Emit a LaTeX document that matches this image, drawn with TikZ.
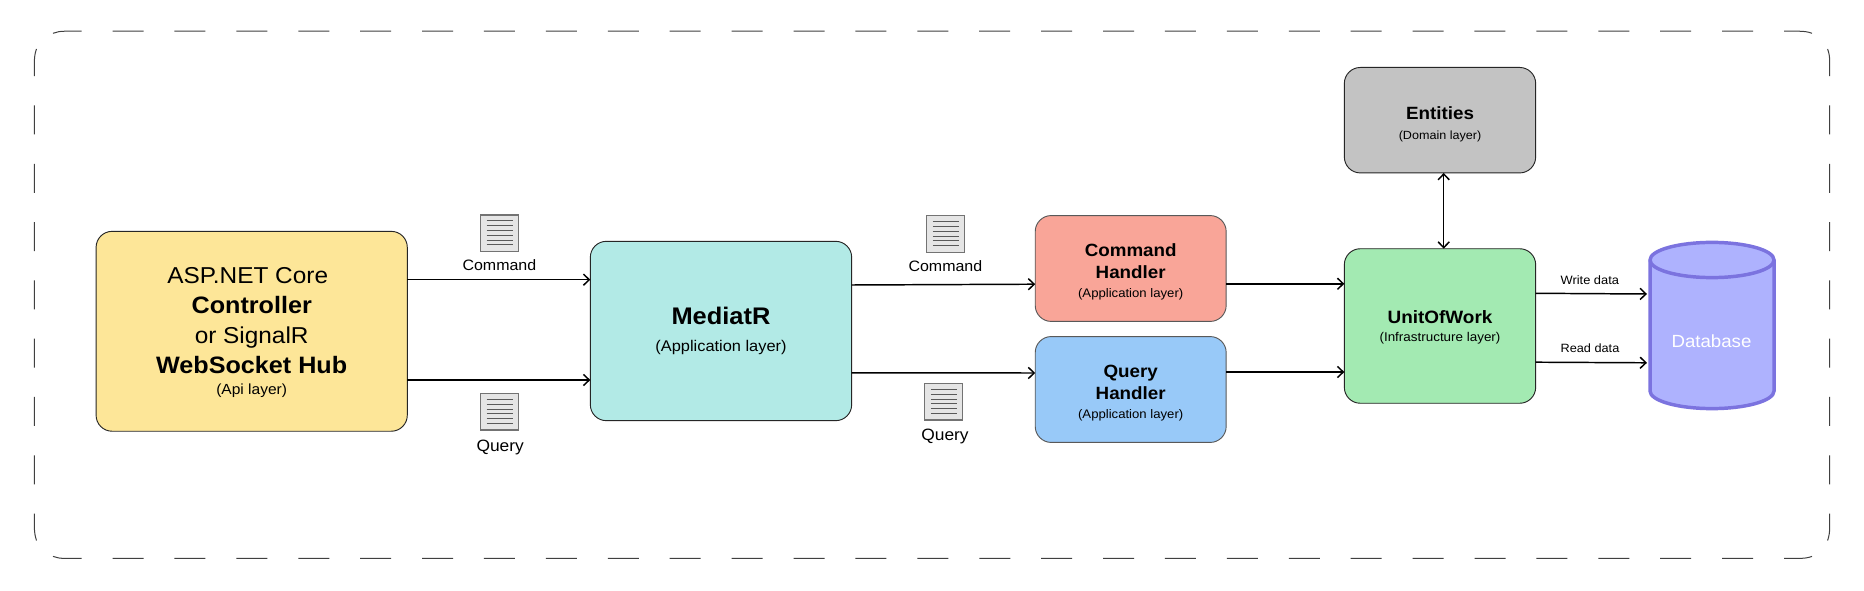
\documentclass[tikz,border=0pt]{standalone}
\usepackage{fontspec}
\setmainfont[FakeStretch=1.06]{Liberation Sans}
\usetikzlibrary{arrows.meta}
\newcommand\sz[2]{\fontsize{#1}{#2}\selectfont}
\newcommand\szb[1]{\fontsize{#1}{#1}\selectfont\bfseries}
\newcommand\szn[1]{\fontsize{#1}{#1}\selectfont}
\newcommand\tall[1]{\rule{0pt}{#1}}
\definecolor{cyellow}{HTML}{FDE698}
\definecolor{cteal}{HTML}{B2EAE6}
\definecolor{cred}{HTML}{F9A598}
\definecolor{cblue}{HTML}{98C9F8}
\definecolor{cgreen}{HTML}{A3EAB2}
\definecolor{cgrey}{HTML}{C3C3C3}
\definecolor{cdb}{HTML}{AEB2FE}
\definecolor{cdbline}{HTML}{7B73DF}
\tikzset{
  outerline/.style={draw=black!75,line width=0.75pt},
  topdash/.style={dash pattern=on 23.25pt off 23.18pt,dash phase=1.6pt},
  sidedash/.style={dash pattern=on 21.75pt off 21.98pt,dash phase=1.2pt},
  boxnode/.style={draw=black!85,line width=0.7pt,rounded corners=12pt,outer sep=0pt,inner sep=0pt,align=center},
  conn/.style={line width=1.1pt,-{Straight Barb[length=4.4pt,width=8.4pt]}},
  biconn/.style={line width=1.1pt,{Straight Barb[length=4.4pt,width=8.4pt]}-{Straight Barb[length=4.4pt,width=8.4pt]}},
  txt/.style={inner sep=0pt,outer sep=0pt,align=center},
  docicon/.style={draw=black!55,fill=black!10,line width=0.8pt,minimum width=28.8pt,minimum height=27.3pt,inner sep=0pt,
    path picture={
      \foreach \k in {0,...,5}{
        \draw[black!65,line width=0.75pt] ([xshift=4.8pt,yshift=-4.5pt-3.6pt*\k]path picture bounding box.north west)
          -- ([xshift=-4.2pt,yshift=-4.5pt-3.6pt*\k]path picture bounding box.north east);
      }
    }},
}
\begin{document}
\begin{tikzpicture}[x=0.75pt,y=-0.75pt]
\useasboundingbox[fill=white] (0,0) rectangle (1864,591);
% outer dashed frame
\draw[outerline,topdash] (53,33.3) .. controls (57,31.8) and (60,31.2) .. (66,31.2) -- (1798,31.2) .. controls (1804,31.2) and (1808,31.8) .. (1812,33.3);
\draw[outerline,topdash] (53,556.4) .. controls (57,557.9) and (60,558.4) .. (66,558.4) -- (1798,558.4) .. controls (1804,558.4) and (1808,557.9) .. (1812,556.4);
\draw[outerline,sidedash] (36.5,49) .. controls (35,53) and (34.4,57) .. (34.4,62) -- (34.4,527) .. controls (34.4,532) and (35,536) .. (36.5,540.5);
\draw[outerline,sidedash] (1827.6,49) .. controls (1829.1,53) and (1829.7,57) .. (1829.7,62) -- (1829.7,527) .. controls (1829.7,532) and (1829.1,536) .. (1827.6,540.5);
% boxes
\node[boxnode,fill=cyellow,minimum width=233.4pt,minimum height=149.9pt,font=\sz{17pt}{22.5pt}] (api) at (251.7,331.3)
 {\tall{14pt}{\szn{17.25pt}ASP.NET Core\hspace*{6pt}}\\
  {\szb{17.8pt}Controller}\\
  {\szn{17.25pt}or SignalR\hspace*{4pt}}\\
  {\szb{17.8pt}WebSocket Hub}\\[-6.5pt]
  {\szn{11pt}(Api layer)}};
\node[boxnode,fill=cteal,minimum width=196pt,minimum height=134.5pt,font=\sz{12pt}{19.8pt}] (mediator) at (721,331)
 {{\szb{18pt}MediatR}\\
  {\szn{11.6pt}(Application layer)}};
\node[boxnode,fill=cred,draw=black!65,minimum width=143.2pt,minimum height=79.4pt,font=\sz{12pt}{16.8pt}] (cmdh) at (1130.7,268.5)
 {\tall{14.4pt}{\szb{13.3pt}Command}\\{\szb{13.3pt}Handler}\\[-3pt]
  {\szn{9.3pt}(Application layer)}};
\node[boxnode,fill=cblue,draw=black!65,minimum width=143.2pt,minimum height=79.4pt,font=\sz{12pt}{16.8pt}] (qh) at (1130.7,389.5)
 {\tall{14.4pt}{\szb{13.3pt}Query}\\{\szb{13.3pt}Handler}\\[-3pt]
  {\szn{9.3pt}(Application layer)}};
\node[boxnode,fill=cgreen,minimum width=143.5pt,minimum height=115.9pt,font=\sz{12pt}{13pt}] (uow) at (1440,326)
 {\tall{11.6pt}{\szb{13.4pt}UnitOfWork}\\
  {\szn{9.5pt}(Infrastructure layer)}};
\node[boxnode,fill=cgrey,minimum width=143.5pt,minimum height=79.1pt,font=\sz{12pt}{15pt}] (ent) at (1440,120.2)
 {\tall{15.1pt}{\szb{13.3pt}Entities}\\
  {\szn{8.9pt}(Domain layer)}};
% database
\draw[draw=cdbline,fill=cdb,line width=2.6pt] (1650,260) arc[start angle=180,end angle=0,x radius=46.5pt,y radius=13.2pt]
  -- (1774,391) arc[start angle=0,end angle=-180,x radius=46.5pt,y radius=13.2pt] -- cycle;
\draw[draw=cdbline,line width=2.6pt] (1650,260) arc[start angle=180,end angle=360,x radius=46.5pt,y radius=13.2pt];
\node[txt,text=white,minimum width=96.75pt,minimum height=30pt,font=\sz{13.2pt}{15pt}] (db) at (1711.5,341) {Database};
% documents and their labels
\node[docicon] (doc1) at (499.5,233.2) {};
\node[docicon] (doc2) at (499.5,411.8) {};
\node[docicon] (doc3) at (945.6,234) {};
\node[docicon] (doc4) at (943.7,401.8) {};
\node[txt,font=\sz{11.3pt}{13pt}] (lab1) at (499.4,265) {Command};
\node[txt,font=\sz{12.3pt}{14pt}] (lab2) at (500.2,447) {Query};
\node[txt,font=\sz{11.3pt}{13pt}] (lab3) at (945.4,265.7) {Command};
\node[txt,font=\sz{12.3pt}{14pt}] (lab4) at (945,436.5) {Query};
\node[txt,font=\sz{9.1pt}{11pt}] (lab5) at (1589.8,279.7) {Write data};
\node[txt,font=\sz{9pt}{11pt}] (lab6) at (1590,348.7) {Read data};
% connectors
\draw[conn] (api.east |- 0,279.7) -- (mediator.west |- 0,279.7);
\draw[conn] (api.east |- 0,380) -- (mediator.west |- 0,380);
\draw[conn] (mediator.east |- 0,285) -- (cmdh.west |- 0,284.2);
\draw[conn] (mediator.east |- 0,372.8) -- (qh.west |- 0,373);
\draw[conn] (cmdh.east |- 0,283.8) -- (uow.west |- 0,283.8);
\draw[conn] (qh.east |- 0,372) -- (uow.west |- 0,372);
\draw[conn] (uow.east |- 0,293.3) -- (db.west |- 0,294);
\draw[conn] (uow.east |- 0,362.2) -- (db.west |- 0,362.8);
\draw[biconn] (ent.south -| 1443.7,0) -- (uow.north -| 1443.7,0);
\end{tikzpicture}
\end{document}
